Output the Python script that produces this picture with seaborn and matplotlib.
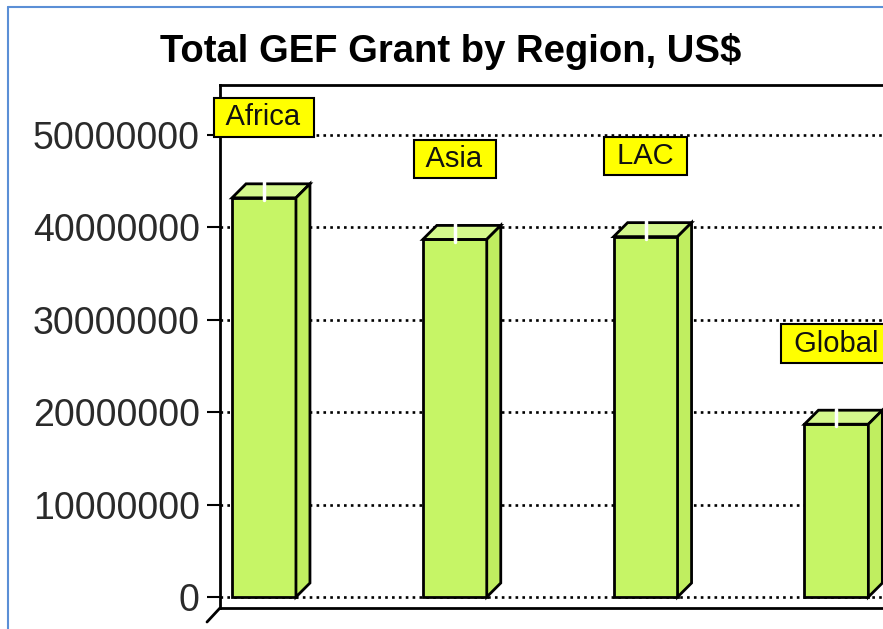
import matplotlib
matplotlib.use("Agg")
import matplotlib.pyplot as plt
import seaborn as sns
import pandas as pd
from matplotlib.patches import Polygon
from matplotlib.lines import Line2D
from matplotlib.ticker import StrMethodFormatter

# =====================================================
# DATOS
# =====================================================

regiones = ["Africa", "Asia", "LAC", "Global"]
montos = [43200000, 38700000, 39000000, 18700000]
ticks_y = [0, 10000000, 20000000, 30000000, 40000000, 50000000]

df = pd.DataFrame({"Region": regiones, "Monto": montos})

color_frente = "#c6f566"
color_tapa = "#d4f88c"
color_lado = "#c0ee60"

# =====================================================
# FIGURA
# =====================================================

sns.set_style("white")
plt.rcParams["font.family"] = ["Liberation Sans", "DejaVu Sans"]

W, H = 883, 629
fig = plt.figure(figsize=(W / 100, H / 100), dpi=100)

# ejes en pixeles (izq 220, arriba 85, abajo 608, se corta a la derecha)
ax = fig.add_axes([220 / W, (H - 608) / H, (W - 220) / W, (608 - 85) / H])

sns.barplot(
    data=df, x="Region", y="Monto", ax=ax,
    color=color_frente, saturation=1, width=0.335,
    edgecolor="black", linewidth=2, zorder=3
)

px_y = 9.24e-6          # pixeles por unidad en y
px_x = 190.8            # pixeles por categoria
ax.set_ylim(-11 / px_y, (597 - 85) / px_y)
ax.set_xlim(-(264 - 220) / px_x, (W - 264) / px_x)

# profundidad 3D en unidades de datos
dx = 14 / px_x
dy = 14 / px_y

for barra in ax.patches:
    x0 = barra.get_x()
    x1 = x0 + barra.get_width()
    h = barra.get_height()
    tapa = Polygon([(x0, h), (x1, h), (x1 + dx, h + dy), (x0 + dx, h + dy)],
                   closed=True, fc=color_tapa, ec="black", lw=2, zorder=3)
    lado = Polygon([(x1, 0), (x1, h), (x1 + dx, h + dy), (x1 + dx, dy)],
                   closed=True, fc=color_lado, ec="black", lw=2, zorder=3)
    ax.add_patch(tapa)
    ax.add_patch(lado)
    xc = (x0 + x1) / 2
    ax.plot([xc, xc], [h - 0.15 * dy, h + 1.1 * dy], color="white", lw=2.5, zorder=4)

# etiquetas amarillas
for i, (reg, val) in enumerate(zip(regiones, montos)):
    ax.annotate(
        " " + reg + " ", xy=(i, val), xytext=(0, 58), textcoords="offset points",
        ha="center", va="center", fontsize=21, color="#111111",
        bbox=dict(boxstyle="square,pad=0.18", fc="#ffff00", ec="black", lw=1.5),
        zorder=5, annotation_clip=False
    )

# =====================================================
# EJES Y GRILLA
# =====================================================

ax.set_yticks(ticks_y)
ax.yaxis.set_major_formatter(StrMethodFormatter("{x:.0f}"))
ax.tick_params(axis="y", length=9.5, width=1.5, pad=5, labelsize=27,
               labelcolor="#2a2a2a", left=True, color="black")
ax.tick_params(axis="x", bottom=False, labelbottom=False)
ax.set_xlabel("")
ax.set_ylabel("")

ax.yaxis.grid(True, linestyle=(0, (1, 1.6)), linewidth=1.9, color="black")
ax.set_axisbelow(True)

for lado_eje in ["left", "top", "bottom"]:
    ax.spines[lado_eje].set_visible(True)
    ax.spines[lado_eje].set_color("black")
    ax.spines[lado_eje].set_linewidth(2)
ax.spines["right"].set_visible(False)

# diagonal del piso 3D
ax.add_line(Line2D([-13 / 663, 0], [-14 / 523, 0], transform=ax.transAxes,
                   color="black", lw=2, clip_on=False))

# =====================================================
# TITULO Y MARCO
# =====================================================

fig.text(451 / W, 1 - 51 / H, "Total GEF Grant by Region, US$",
         ha="center", va="center", fontsize=27.5, fontweight="bold", color="black")

fig.add_artist(Line2D([8 / W, 8 / W], [0, 1 - 7 / H], color="#5b8fd6", lw=1.5))
fig.add_artist(Line2D([8 / W, 1], [1 - 7 / H, 1 - 7 / H], color="#5b8fd6", lw=1.5))

plt.savefig("out.png", dpi=100)
plt.close()
